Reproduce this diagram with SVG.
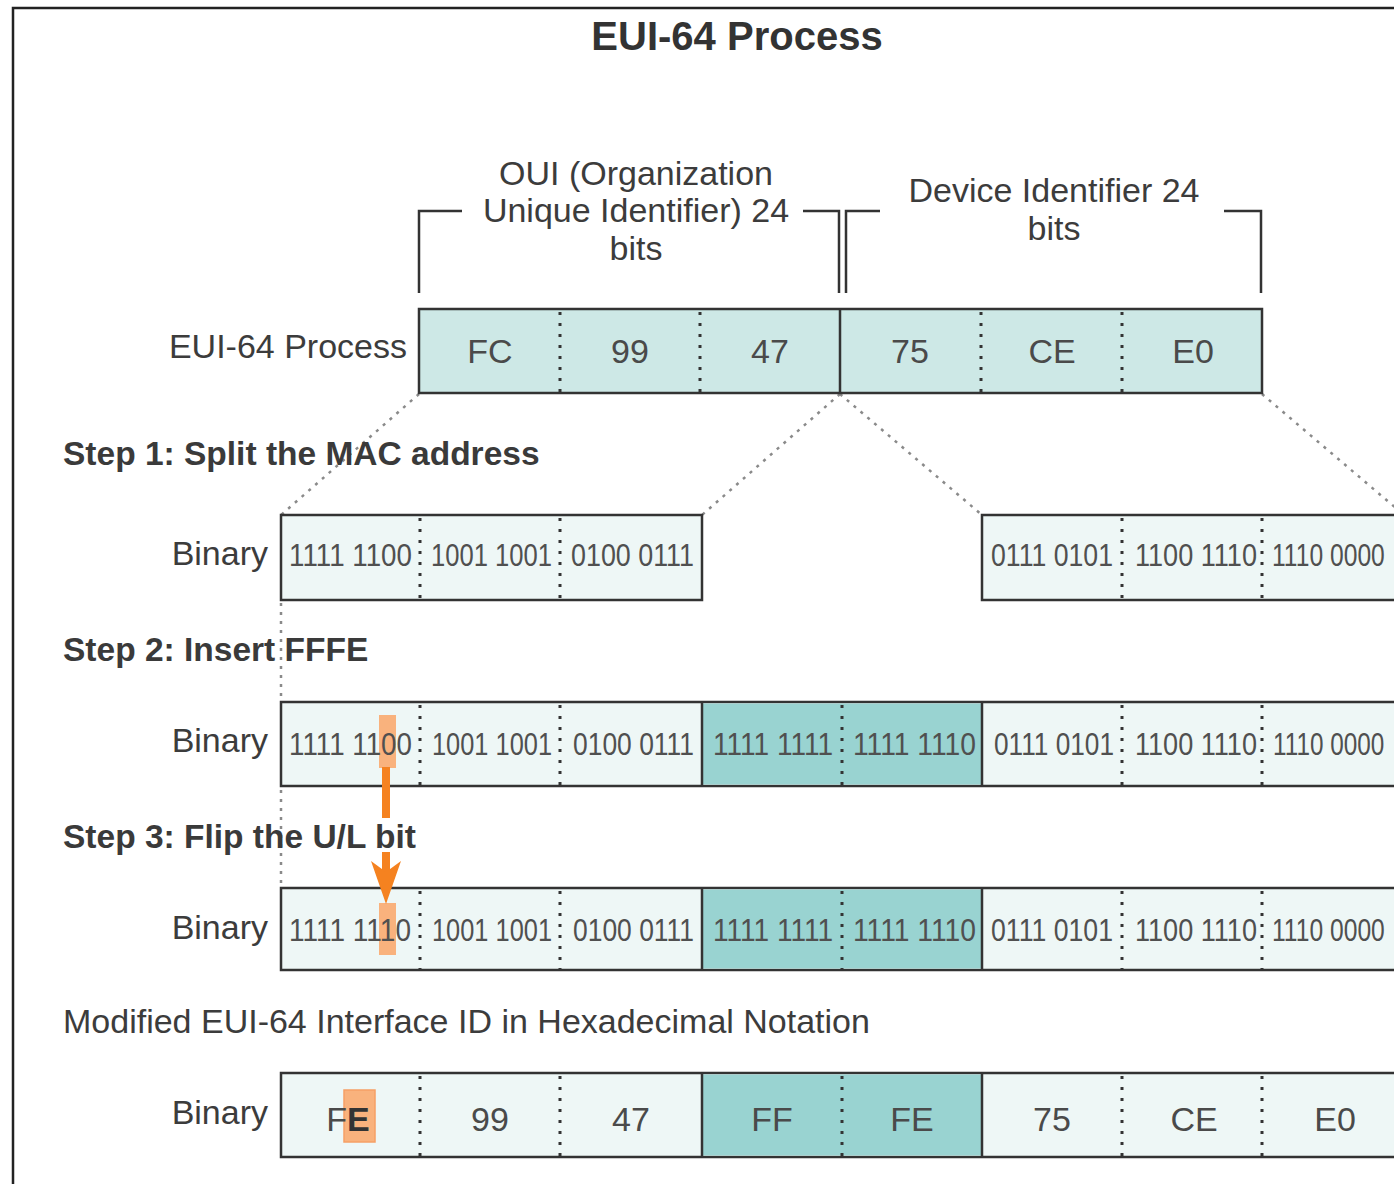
<svg xmlns="http://www.w3.org/2000/svg" width="1394" height="1184" viewBox="0 0 1394 1184">
  <style>
    text { font-family: "Liberation Sans", Arial, sans-serif; fill: #3c3c3c; }
    .title { font-size: 40px; font-weight: bold; fill: #333; }
    .lbl { font-size: 34px; }
    .step { font-size: 33.5px; font-weight: bold; fill: #3a3a3a; }
    .hex { font-size: 34px; fill: #4a4a4a; text-anchor: middle; }
    .bin { font-size: 32px; fill: #505050; }
    .box { stroke: #333; stroke-width: 2.5; }
    .c-top { fill: #cde8e6; }
    .c-lt { fill: #eef7f6; }
    .c-dk { fill: #99d3d1; }
    .sep { stroke: #333; stroke-width: 2.5; }
    .dot { stroke: #333; stroke-width: 3; stroke-dasharray: 3 8; }
    .guide { stroke: #8a8a8a; stroke-width: 2.5; stroke-dasharray: 3 6; fill: none; }
    .brk { stroke: #333; stroke-width: 2.5; fill: none; }
    .hl { fill: #f9b27d; }
  </style>

  <!-- outer frame -->
  <path d="M13 1184 V8 H1394" fill="none" stroke="#222" stroke-width="2.5"/>

  <text class="title" x="737" y="50" text-anchor="middle">EUI-64 Process</text>

  <!-- field brackets -->
  <g id="oui-bracket">
    <path class="brk" d="M419 293 V211 H462 M803 211 H839 V293"/>
    <text class="lbl" x="636" y="185" text-anchor="middle">OUI (Organization</text>
    <text class="lbl" x="636" y="222" text-anchor="middle">Unique Identifier) 24</text>
    <text class="lbl" x="636" y="260" text-anchor="middle">bits</text>
  </g>
  <g id="device-bracket">
    <path class="brk" d="M846 293 V211 H880 M1224 211 H1261 V293"/>
    <text class="lbl" x="1054" y="202" text-anchor="middle">Device Identifier 24</text>
    <text class="lbl" x="1054" y="240" text-anchor="middle">bits</text>
  </g>

  <!-- connectors -->
  <g id="connectors">
    <line class="guide" x1="419" y1="394" x2="281" y2="515"/>
    <line class="guide" x1="840" y1="394" x2="702" y2="515"/>
    <line class="guide" x1="840" y1="394" x2="982" y2="515"/>
    <line class="guide" x1="1262" y1="394" x2="1404" y2="515"/>
    <line class="guide" x1="281" y1="603" x2="281" y2="700"/>
    <line class="guide" x1="281" y1="790" x2="281" y2="886"/>
  </g>

  <!-- MAC address -->
  <g id="mac">
    <text class="lbl" x="407" y="358" text-anchor="end">EUI-64 Process</text>
    <rect class="c-top box" x="419" y="309" width="843" height="84"/>
    <line class="sep" x1="840" y1="309" x2="840" y2="393"/>
    <line class="dot" x1="560" y1="312" x2="560" y2="392"/>
    <line class="dot" x1="700" y1="312" x2="700" y2="392"/>
    <line class="dot" x1="981" y1="312" x2="981" y2="392"/>
    <line class="dot" x1="1122" y1="312" x2="1122" y2="392"/>
    <text class="hex" x="490" y="363">FC</text>
    <text class="hex" x="630" y="363">99</text>
    <text class="hex" x="770" y="363">47</text>
    <text class="hex" x="910" y="363">75</text>
    <text class="hex" x="1052" y="363">CE</text>
    <text class="hex" x="1193" y="363">E0</text>
  </g>

  <!-- Step 1 -->
  <text class="step" x="63" y="465">Step 1: Split the MAC address</text>
  <g id="step1-oui">
    <text class="lbl" x="268" y="565" text-anchor="end">Binary</text>
    <rect class="c-lt box" x="281" y="515" width="421" height="85"/>
    <line class="dot" x1="420" y1="518" x2="420" y2="599"/>
    <line class="dot" x1="560" y1="518" x2="560" y2="599"/>
    <text class="bin" x="289" y="566" textLength="123" lengthAdjust="spacingAndGlyphs">1111 1100</text>
    <text class="bin" x="431" y="566" textLength="121" lengthAdjust="spacingAndGlyphs">1001 1001</text>
    <text class="bin" x="571" y="566" textLength="123" lengthAdjust="spacingAndGlyphs">0100 0111</text>
  </g>
  <g id="step1-device">
    <rect class="c-lt box" x="982" y="515" width="430" height="85"/>
    <line class="dot" x1="1122" y1="518" x2="1122" y2="599"/>
    <line class="dot" x1="1262" y1="518" x2="1262" y2="599"/>
    <text class="bin" x="991" y="566" textLength="122" lengthAdjust="spacingAndGlyphs">0111 0101</text>
    <text class="bin" x="1135" y="566" textLength="122" lengthAdjust="spacingAndGlyphs">1100 1110</text>
    <text class="bin" transform="translate(1272 566) scale(0.77 1)">1110 0000</text>
  </g>

  <!-- Step 2 -->
  <text class="step" x="63" y="661">Step 2: Insert FFFE</text>
  <g id="step2">
    <text class="lbl" x="268" y="752" text-anchor="end">Binary</text>
    <rect class="c-lt box" x="281" y="702" width="1130" height="84"/>
    <rect class="c-dk" x="702" y="703.5" width="280" height="81"/>
    <line class="sep" x1="702" y1="702" x2="702" y2="786"/>
    <line class="sep" x1="982" y1="702" x2="982" y2="786"/>
    <line class="dot" x1="420" y1="705" x2="420" y2="785"/>
    <line class="dot" x1="560" y1="705" x2="560" y2="785"/>
    <line class="dot" x1="842" y1="705" x2="842" y2="785"/>
    <line class="dot" x1="1122" y1="705" x2="1122" y2="785"/>
    <line class="dot" x1="1262" y1="705" x2="1262" y2="785"/>
    <rect class="hl" x="379" y="715" width="17" height="53"/>
    <text class="bin" x="289" y="755" textLength="123" lengthAdjust="spacingAndGlyphs">1111 1100</text>
    <text class="bin" x="432" y="755" textLength="120" lengthAdjust="spacingAndGlyphs">1001 1001</text>
    <text class="bin" x="573" y="755" textLength="121" lengthAdjust="spacingAndGlyphs">0100 0111</text>
    <text class="bin" x="713" y="755" textLength="120" lengthAdjust="spacingAndGlyphs">1111 1111</text>
    <text class="bin" x="853" y="755" textLength="123" lengthAdjust="spacingAndGlyphs">1111 1110</text>
    <text class="bin" x="994" y="755" textLength="120" lengthAdjust="spacingAndGlyphs">0111 0101</text>
    <text class="bin" x="1135" y="755" textLength="122" lengthAdjust="spacingAndGlyphs">1100 1110</text>
    <text class="bin" transform="translate(1273 755) scale(0.76 1)">1110 0000</text>
  </g>

  <!-- Step 3 -->
  <text class="step" x="63" y="848">Step 3: Flip the U/L bit</text>
  <g id="step3">
    <text class="lbl" x="268" y="939" text-anchor="end">Binary</text>
    <rect class="c-lt box" x="281" y="888" width="1130" height="82"/>
    <rect class="c-dk" x="702" y="889.5" width="280" height="79"/>
    <line class="sep" x1="702" y1="888" x2="702" y2="970"/>
    <line class="sep" x1="982" y1="888" x2="982" y2="970"/>
    <line class="dot" x1="420" y1="891" x2="420" y2="969"/>
    <line class="dot" x1="560" y1="891" x2="560" y2="969"/>
    <line class="dot" x1="842" y1="891" x2="842" y2="969"/>
    <line class="dot" x1="1122" y1="891" x2="1122" y2="969"/>
    <line class="dot" x1="1262" y1="891" x2="1262" y2="969"/>
    <rect class="hl" x="379" y="903" width="17" height="52"/>
    <text class="bin" x="289" y="941" textLength="122" lengthAdjust="spacingAndGlyphs">1111 1110</text>
    <text class="bin" x="432" y="941" textLength="120" lengthAdjust="spacingAndGlyphs">1001 1001</text>
    <text class="bin" x="573" y="941" textLength="121" lengthAdjust="spacingAndGlyphs">0100 0111</text>
    <text class="bin" x="713" y="941" textLength="120" lengthAdjust="spacingAndGlyphs">1111 1111</text>
    <text class="bin" x="853" y="941" textLength="123" lengthAdjust="spacingAndGlyphs">1111 1110</text>
    <text class="bin" x="991" y="941" textLength="122" lengthAdjust="spacingAndGlyphs">0111 0101</text>
    <text class="bin" x="1135" y="941" textLength="122" lengthAdjust="spacingAndGlyphs">1100 1110</text>
    <text class="bin" transform="translate(1272 941) scale(0.77 1)">1110 0000</text>
  </g>

  <!-- U/L bit flip arrow, drawn over the row below -->
  <g id="flip-arrow" fill="#f58220">
    <rect x="382" y="767" width="8" height="51"/>
    <rect x="382" y="852" width="8" height="20"/>
    <polygon points="386,904 371,861 386,872 401,861"/>
  </g>

  <!-- Result -->
  <text class="lbl" x="63" y="1033">Modified EUI-64 Interface ID in Hexadecimal Notation</text>
  <g id="interface-id">
    <text class="lbl" x="268" y="1124" text-anchor="end">Binary</text>
    <rect class="c-lt box" x="281" y="1073" width="1130" height="84"/>
    <rect class="c-dk" x="702" y="1074.5" width="280" height="81"/>
    <line class="sep" x1="702" y1="1073" x2="702" y2="1157"/>
    <line class="sep" x1="982" y1="1073" x2="982" y2="1157"/>
    <line class="dot" x1="420" y1="1076" x2="420" y2="1156"/>
    <line class="dot" x1="560" y1="1076" x2="560" y2="1156"/>
    <line class="dot" x1="842" y1="1076" x2="842" y2="1156"/>
    <line class="dot" x1="1122" y1="1076" x2="1122" y2="1156"/>
    <line class="dot" x1="1262" y1="1076" x2="1262" y2="1156"/>
    <rect class="hl" x="344" y="1090" width="31" height="52" stroke="#f6a066" stroke-width="1.5"/>
    <text class="hex" x="348" y="1131">F<tspan fill="#333" font-weight="bold">E</tspan></text>
    <text class="hex" x="490" y="1131">99</text>
    <text class="hex" x="631" y="1131">47</text>
    <text class="hex" x="772" y="1131">FF</text>
    <text class="hex" x="912" y="1131">FE</text>
    <text class="hex" x="1052" y="1131">75</text>
    <text class="hex" x="1194" y="1131">CE</text>
    <text class="hex" x="1335" y="1131">E0</text>
  </g>
</svg>
